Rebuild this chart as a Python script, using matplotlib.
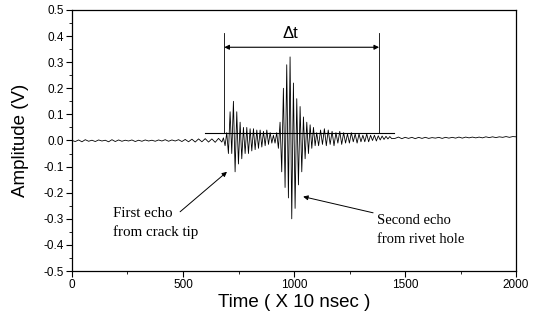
import matplotlib
matplotlib.use("Agg")
import matplotlib.pyplot as plt
import numpy as np

# waveform: each segment = (start, end, successive extrema in V)
noise_start, noise_end = 0, 675
noise_vals = [0.000, -0.004, 0.002, -0.005, 0.003, -0.003, 0.001, -0.004, 0.002, -0.002,
              0.001, -0.005, 0.003, -0.004, 0.002, -0.003, 0.001, -0.002, 0.002, -0.004,
              0.001, -0.003, 0.002, -0.002, 0.001, -0.003, 0.002, -0.002, 0.003, -0.003,
              0.002, -0.002, 0.003, -0.004, 0.004, -0.005, 0.005, -0.006, 0.006, -0.005,
              0.007, -0.006, 0.006, -0.007, 0.008, -0.006]

echo1_start, echo1_end = 682, 900
echo1_vals = [0.01, -0.02, 0.03, -0.05, 0.11, -0.05, 0.15, -0.12, 0.11, -0.09,
              0.07, -0.07, 0.05, -0.05, 0.05, -0.05, 0.045, -0.04, 0.045, -0.035,
              0.04, -0.03, 0.04, -0.025, 0.035, -0.02, 0.04, -0.015, 0.03, -0.01]

echo2_start, echo2_end = 907, 1095
echo2_vals = [0.02, -0.01, 0.03, -0.03, 0.07, -0.12, 0.20, -0.18, 0.29, -0.22,
              0.32, -0.30, 0.22, -0.26, 0.16, -0.17, 0.13, -0.12, 0.09, -0.07,
              0.07, -0.05, 0.06, -0.03, 0.05, -0.02]

ring_start, ring_end = 1102, 1440
ring_vals = [0.03, -0.02, 0.04, -0.015, 0.045, -0.02, 0.04, -0.015, 0.035, -0.02,
             0.03, -0.01, 0.035, -0.015, 0.03, -0.01, 0.025, -0.01, 0.03, -0.005,
             0.025, -0.01, 0.025, -0.005, 0.02, -0.005, 0.025, -0.005, 0.02, 0.0,
             0.02, -0.002, 0.018, 0.002, 0.017, 0.004, 0.016, 0.006, 0.015, 0.007]

tail_start, tail_end = 1455, 2000
tail_vals = [0.008, 0.013, 0.007, 0.012, 0.008, 0.012, 0.007, 0.012, 0.008, 0.012,
             0.008, 0.011, 0.009, 0.012, 0.008, 0.012, 0.009, 0.012, 0.009, 0.013,
             0.009, 0.013, 0.010, 0.013, 0.010, 0.013, 0.010, 0.014, 0.011, 0.014,
             0.011, 0.014, 0.012, 0.015, 0.012, 0.015, 0.014]

segments = [(noise_start, noise_end, noise_vals),
            (echo1_start, echo1_end, echo1_vals),
            (echo2_start, echo2_end, echo2_vals),
            (ring_start, ring_end, ring_vals),
            (tail_start, tail_end, tail_vals)]

t = np.concatenate([np.linspace(a, b, len(v)) for a, b, v in segments])
amp = np.concatenate([np.array(v) for a, b, v in segments])

# delta-t marker
dt_left, dt_right = 686, 1383
dt_base, dt_top, dt_arrow = 0.028, 0.41, 0.357
base_x0, base_x1 = 600, 1450

fig = plt.figure(figsize=(5.41, 3.2), dpi=100)
ax = fig.add_axes([0.133, 0.153, 0.821, 0.816])

ax.plot(t, amp, color="black", lw=0.6)

ax.plot([base_x0, base_x1], [dt_base, dt_base], color="black", lw=0.8)
ax.plot([dt_left, dt_left], [dt_base, dt_top], color="black", lw=0.6)
ax.plot([dt_right, dt_right], [dt_base, dt_top], color="black", lw=0.6)
ax.annotate("", xy=(dt_left, dt_arrow), xytext=(dt_right, dt_arrow),
            arrowprops=dict(arrowstyle="<|-|>", color="black", lw=0.8,
                            mutation_scale=7, shrinkA=0, shrinkB=0))
ax.text(985, 0.41, "Δt", ha="center", va="center", fontsize=12,
        family="Liberation Sans")

serif = "Liberation Serif"
ax.annotate("", xy=(698, -0.12), xytext=(487, -0.273),
            arrowprops=dict(arrowstyle="-|>", color="black", lw=0.7,
                            mutation_scale=7, shrinkA=0, shrinkB=0))
ax.text(185, -0.28, "First echo", fontsize=10.8, family=serif, va="center")
ax.text(185, -0.35, "from crack tip", fontsize=10.8, family=serif, va="center")

ax.annotate("", xy=(1041, -0.215), xytext=(1356, -0.277),
            arrowprops=dict(arrowstyle="-|>", color="black", lw=0.7,
                            mutation_scale=7, shrinkA=0, shrinkB=0))
ax.text(1374, -0.305, "Second echo", fontsize=10.5, family=serif, va="center")
ax.text(1374, -0.38, "from rivet hole", fontsize=10.5, family=serif, va="center")

ax.set_xlim(0, 2000)
ax.set_ylim(-0.5, 0.5)
ax.set_xticks([0, 500, 1000, 1500, 2000])
ax.set_xticks(np.arange(0, 2001, 250), minor=True)
ax.set_yticks(np.round(np.arange(-0.5, 0.51, 0.1), 1))
ax.set_yticks(np.round(np.arange(-0.5, 0.51, 0.05), 2), minor=True)
ax.yaxis.set_major_formatter(plt.FuncFormatter(lambda v, p: "%.1f" % (0.0 if abs(v) < 1e-9 else v)))
ax.tick_params(direction="out", labelsize=8.5, length=4, width=0.8, pad=2)
ax.tick_params(which="minor", direction="out", length=2, width=0.6)
for lab in ax.get_xticklabels() + ax.get_yticklabels():
    lab.set_family("Liberation Sans")
for s in ax.spines.values():
    s.set_linewidth(0.9)

ax.set_xlabel("Time ( X 10 nsec )", fontsize=13.5, family="Liberation Sans", labelpad=2)
ax.set_ylabel("Amplitude (V)", fontsize=13.5, family="Liberation Sans", labelpad=10)

fig.savefig("out.png", dpi=100)
